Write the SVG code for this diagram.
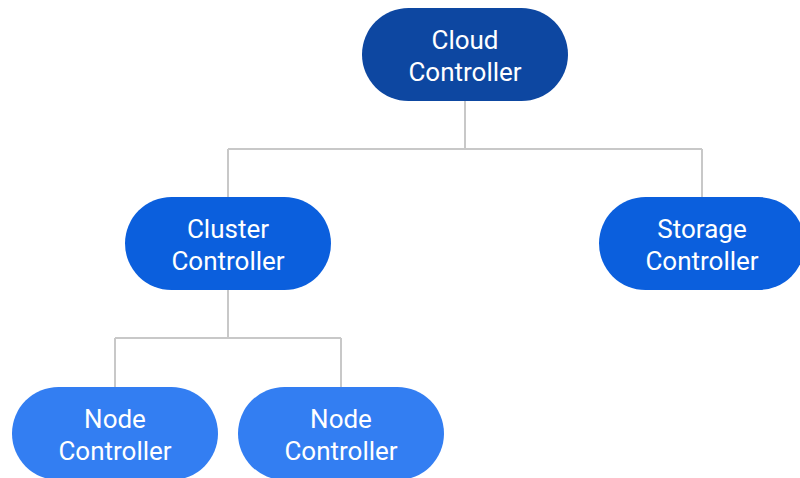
<svg xmlns="http://www.w3.org/2000/svg" width="800" height="478" viewBox="0 0 800 478">
<style>
.lbl{font-family:Roboto,"Liberation Sans",sans-serif;font-size:26px;fill:#ffffff;text-anchor:middle}
.edge{fill:none;stroke:#C8C8C8;stroke-width:2}
.l1{fill:#0D47A1}
.l2{fill:#0B5FDD}
.l3{fill:#337EF2}
</style>
<rect width="800" height="478" fill="#ffffff"/>
<g id="connectors">
<path class="edge" d="M465 101V149M228 149H702M228 149V197M702 149V197"/>
<path class="edge" d="M228 290V338M115 338H341M115 338V387M341 338V387"/>
</g>
<g id="cloud">
<rect class="l1" x="362" y="8" width="206" height="93" rx="46.5"/>
<text class="lbl" x="465" y="48.5">Cloud</text>
<text class="lbl" x="465" y="80.5">Controller</text>
</g>
<g id="cluster">
<rect class="l2" x="125" y="197" width="206" height="93" rx="46.5"/>
<text class="lbl" x="228" y="237.5">Cluster</text>
<text class="lbl" x="228" y="269.5">Controller</text>
</g>
<g id="storage">
<rect class="l2" x="599" y="197" width="206" height="93" rx="46.5"/>
<text class="lbl" x="702" y="237.5">Storage</text>
<text class="lbl" x="702" y="269.5">Controller</text>
</g>
<g id="node1">
<rect class="l3" x="12" y="387" width="206" height="93" rx="46.5"/>
<text class="lbl" x="115" y="427.5">Node</text>
<text class="lbl" x="115" y="459.5">Controller</text>
</g>
<g id="node2">
<rect class="l3" x="238" y="387" width="206" height="93" rx="46.5"/>
<text class="lbl" x="341" y="427.5">Node</text>
<text class="lbl" x="341" y="459.5">Controller</text>
</g>
</svg>
